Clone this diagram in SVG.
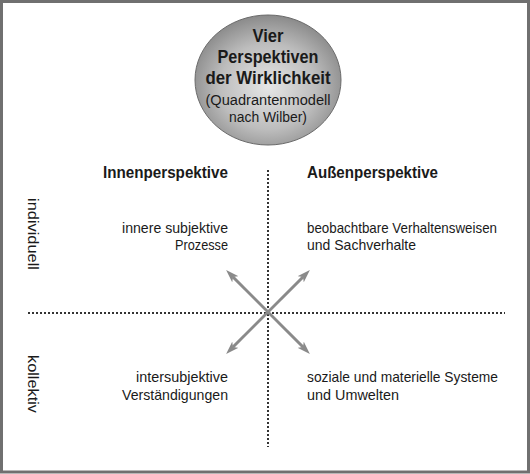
<svg xmlns="http://www.w3.org/2000/svg" width="530" height="474" viewBox="0 0 530 474">
  <style>
    text { font-family: "Liberation Sans", Arial, sans-serif; fill: #1a1a1a; }
    .b { font-weight: bold; }
    .t { font-size: 15px; }
    .h { font-size: 16.5px; }
    .c { font-size: 19px; }
    .cs { font-size: 15.5px; }
    .dot { stroke: #333; stroke-width: 2; stroke-dasharray: 2 2; fill: none; }
    .arr { stroke: #8a8a8a; stroke-width: 3; fill: none; }
  </style>
  <defs>
    <radialGradient id="g" cx="50%" cy="55%" r="55%">
      <stop offset="0" stop-color="#e6e6e6"/>
      <stop offset="0.6" stop-color="#bdbdbd"/>
      <stop offset="1" stop-color="#8a8a8a"/>
    </radialGradient>
    <marker id="ah" viewBox="0 0 12 8" markerWidth="13" markerHeight="9" refX="3" refY="4" orient="auto-start-reverse" markerUnits="userSpaceOnUse">
      <path d="M0,0 L12,4 L0,8 L3,4 Z" fill="#8a8a8a"/>
    </marker>
  </defs>
  <rect x="1.5" y="1.5" width="527" height="470.5" fill="#fff" stroke="#707070" stroke-width="3"/>

  <g id="title">
    <ellipse cx="268" cy="80" rx="73" ry="65" fill="url(#g)" stroke="#6a6a6a" stroke-width="1"/>
    <text class="b c" x="268" y="42" text-anchor="middle" textLength="31" lengthAdjust="spacingAndGlyphs">Vier</text>
    <text class="b c" x="268" y="63" text-anchor="middle" textLength="101" lengthAdjust="spacingAndGlyphs">Perspektiven</text>
    <text class="b c" x="268" y="84" text-anchor="middle" textLength="125" lengthAdjust="spacingAndGlyphs">der Wirklichkeit</text>
    <text class="cs" x="268" y="105" text-anchor="middle" textLength="125" lengthAdjust="spacingAndGlyphs">(Quadrantenmodell</text>
    <text class="cs" x="268" y="122" text-anchor="middle" textLength="78" lengthAdjust="spacingAndGlyphs">nach Wilber)</text>
  </g>

  <g id="connectors">
    <line class="dot" x1="268" y1="170" x2="268" y2="447"/>
    <line class="dot" x1="28" y1="313" x2="505" y2="313"/>
    <line class="arr" x1="233" y1="277" x2="303" y2="347" marker-start="url(#ah)" marker-end="url(#ah)"/>
    <line class="arr" x1="303" y1="277" x2="233" y2="347" marker-start="url(#ah)" marker-end="url(#ah)"/>
  </g>

  <g id="innen">
    <text class="b h" x="228" y="178" text-anchor="end" textLength="125" lengthAdjust="spacingAndGlyphs">Innenperspektive</text>
  </g>
  <g id="aussen">
    <text class="b h" x="307" y="178" textLength="131" lengthAdjust="spacingAndGlyphs">Außenperspektive</text>
  </g>

  <g id="individuell">
    <text class="t" transform="translate(28,198) rotate(90)" textLength="72" lengthAdjust="spacingAndGlyphs">individuell</text>
  </g>
  <g id="kollektiv">
    <text class="t" transform="translate(28,355) rotate(90)" textLength="58" lengthAdjust="spacingAndGlyphs">kollektiv</text>
  </g>

  <g id="q-ul">
    <text class="t" x="228" y="233" text-anchor="end" textLength="106" lengthAdjust="spacingAndGlyphs">innere subjektive</text>
    <text class="t" x="228" y="250" text-anchor="end" textLength="53" lengthAdjust="spacingAndGlyphs">Prozesse</text>
  </g>
  <g id="q-ur">
    <text class="t" x="307" y="233" textLength="190" lengthAdjust="spacingAndGlyphs">beobachtbare Verhaltensweisen</text>
    <text class="t" x="307" y="250" textLength="109" lengthAdjust="spacingAndGlyphs">und Sachverhalte</text>
  </g>
  <g id="q-ll">
    <text class="t" x="228" y="382" text-anchor="end" textLength="92" lengthAdjust="spacingAndGlyphs">intersubjektive</text>
    <text class="t" x="228" y="400" text-anchor="end" textLength="106" lengthAdjust="spacingAndGlyphs">Verständigungen</text>
  </g>
  <g id="q-lr">
    <text class="t" x="307" y="382" textLength="191" lengthAdjust="spacingAndGlyphs">soziale und materielle Systeme</text>
    <text class="t" x="307" y="400" textLength="92" lengthAdjust="spacingAndGlyphs">und Umwelten</text>
  </g>
</svg>
